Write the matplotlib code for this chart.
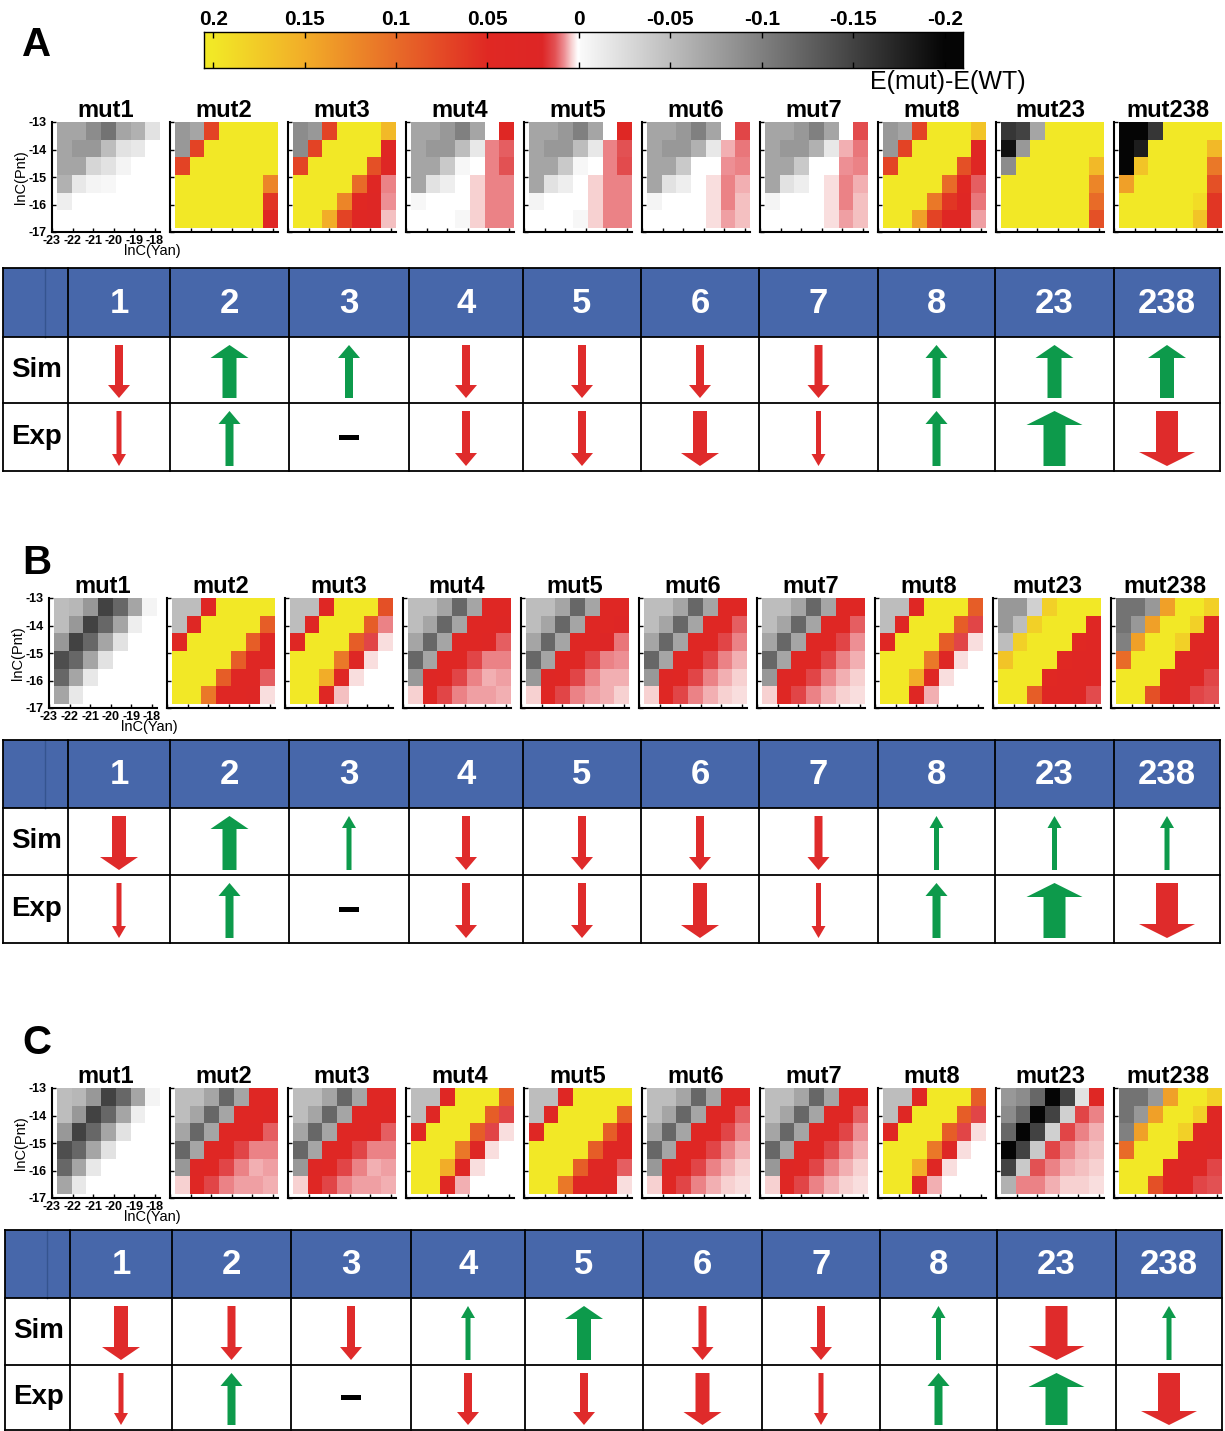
import numpy as np
import matplotlib
matplotlib.use("Agg")
import matplotlib.pyplot as plt
from matplotlib.colors import LinearSegmentedColormap
from matplotlib.patches import Rectangle, Polygon

plt.rcParams['font.family'] = ['Liberation Sans', 'DejaVu Sans']
plt.rcParams['axes.unicode_minus'] = False

# ---------------- data (E(mut)-E(WT), in units of 0.01) ----------------
# rows: lnC(Pnt) -13 (top) ... -17 ; cols: lnC(Yan) -23 ... -18
mutants = ['mut1', 'mut2', 'mut3', 'mut4', 'mut5', 'mut6', 'mut7', 'mut8', 'mut23', 'mut238']
col_labels = ['1', '2', '3', '4', '5', '6', '7', '8', '23', '238']

A_mut1 = [[-7, -7, -9, -11, -7, -6, -2],
          [-7, -8, -8, -5, -2, -1.5, 0],
          [-7, -7, -3, -2, -0.5, 0, 0],
          [-6, -1.5, -0.5, -0.3, 0, 0, 0],
          [-1, 0, 0, 0, 0, 0, 0],
          [0, 0, 0, 0, 0, 0, 0]]
A_mut2 = [[-8, -7, 7, 20, 20, 20, 20],
          [-8, 7, 20, 20, 20, 20, 20],
          [7, 20, 20, 20, 20, 20, 20],
          [20, 20, 20, 20, 20, 20, 12],
          [20, 20, 20, 20, 20, 20, 6],
          [20, 20, 20, 20, 20, 20, 4]]
A_mut3 = [[-9, -8, 7, 20, 20, 20, 16],
          [-9, 7, 20, 20, 20, 20, 4],
          [7, 20, 20, 20, 20, 8, 3],
          [20, 20, 20, 20, 10, 4, 0.9],
          [20, 20, 20, 12, 5, 3, 0.8],
          [20, 20, 15, 7, 4, 3, 0.5]]
A_mut4 = [[-7, -7, -8, -10, -7, 0, 4],
          [-7, -8, -8, -5, -1.5, 0.9, 1.2],
          [-7, -7, -4, -0.3, 0, 0.9, 1.3],
          [-7, -2, -1, 0, 0.4, 0.9, 0.9],
          [-0.3, 0, 0, 0, 0.4, 0.9, 0.9],
          [0, 0, 0, -0.3, 0.4, 0.9, 0.9]]
A_mut5 = [[-7, -7, -8, -10, -7, 0, 3.5],
          [-7, -8, -8, -5, -1.5, 0.9, 1.3],
          [-7, -7, -4, -0.3, 0, 0.9, 1.4],
          [-7, -2, -1, 0, 0.4, 0.9, 0.9],
          [-0.5, 0, 0, 0, 0.4, 0.9, 0.9],
          [0, 0, 0, -0.3, 0.4, 0.9, 0.9]]
A_mut6 = [[-7, -7, -8, -10, -7, 0, 1.5],
          [-7, -8, -8, -6, -1.5, 0.6, 1.0],
          [-7, -7, -4, 0, 0, 0.8, 0.9],
          [-7, -2, -1, 0, 0.3, 0.9, 0.6],
          [-0.5, 0, 0, 0, 0.3, 0.9, 0.5],
          [0, 0, 0, 0, 0.3, 0.7, 0.5]]
A_mut7 = [[-7, -7, -8, -10, -7, 0, 1.4],
          [-7, -8, -8, -6, -1.5, 0.6, 1.0],
          [-7, -7, -4, 0, 0, 0.8, 0.9],
          [-7, -2, -1, 0, 0.3, 0.9, 0.6],
          [-0.5, 0, 0, 0, 0.3, 0.9, 0.5],
          [0, 0, 0, 0, 0.3, 0.7, 0.5]]
A_mut8 = [[-8, -7, 7, 20, 20, 20, 17],
          [-8, 7, 20, 20, 20, 20, 4],
          [7, 20, 20, 20, 20, 8, 4],
          [20, 20, 20, 20, 10, 5, 1.2],
          [20, 20, 20, 11, 6, 4, 1.0],
          [20, 20, 14, 7, 4, 4, 0.7]]
A_mut23 = [[-16, -15, -7, 20, 20, 20, 20],
           [-19, -8, 20, 20, 20, 20, 20],
           [-9, 20, 20, 20, 20, 20, 16],
           [20, 20, 20, 20, 20, 20, 12],
           [20, 20, 20, 20, 20, 20, 10],
           [20, 20, 20, 20, 20, 20, 8]]
A_mut238 = [[-20, -20, -16, 20, 20, 20, 20],
            [-20, -18, 20, 20, 20, 20, 16],
            [-20, 17, 20, 20, 20, 20, 11],
            [14, 20, 20, 20, 20, 20, 8],
            [20, 20, 20, 20, 20, 19, 6],
            [20, 20, 20, 20, 20, 17, 6]]

B_mut1 = [[-5, -5.5, -8, -15, -12, -7, -0.5],
          [-5, -8, -15, -12, -7, -1, 0],
          [-8, -15, -12, -7, -2, 0, 0],
          [-14, -12, -7, -2, 0, 0, 0],
          [-12, -7, -1.5, 0, 0, 0, 0],
          [-7, -1.5, 0, 0, 0, 0, 0]]
B_mut2 = [[-5, -5, 4, 20, 20, 20, 20],
          [-5, 4, 20, 20, 20, 20, 9],
          [4, 20, 20, 20, 20, 9, 4],
          [20, 20, 20, 20, 9, 4, 4],
          [20, 20, 20, 9, 4, 4, 1.2],
          [20, 20, 11, 4, 4, 3, 0.3]]
B_mut3 = [[-5, -5, 4, 20, 20, 20, 8],
          [-5, 4, 20, 20, 20, 9, 0.9],
          [4, 20, 20, 20, 9, 1.5, 0.3],
          [20, 20, 20, 11, 3, 0.3, 0],
          [20, 20, 15, 4, 0.3, 0, 0],
          [20, 20, 4, 0.5, 0, 0, 0]]
B_mut4 = [[-5, -5, -7, -12, -7, 4, 4],
          [-5, -7, -12, -7, 4, 4, 3],
          [-7, -12, -7, 4, 4, 3, 1.2],
          [-12, -7, 4, 4, 1.5, 0.9, 0.9],
          [-8, 3, 4, 1.5, 0.9, 0.6, 0.7],
          [0.4, 4, 1.5, 0.9, 0.7, 0.7, 0.6]]
B_mut5 = [[-5, -5, -7, -12, -7, 4, 4],
          [-5, -7, -12, -7, 4, 4, 2.5],
          [-7, -12, -7, 4, 4, 2, 1.0],
          [-12, -7, 4, 4, 1.5, 0.9, 0.8],
          [-8, 3, 4, 1.5, 0.9, 0.6, 0.6],
          [0.4, 4, 1.5, 0.9, 0.7, 0.6, 0.4]]
B_mut6 = [[-5, -5, -7, -12, -7, 4, 4],
          [-5, -7, -12, -7, 4, 4, 1.2],
          [-7, -12, -7, 4, 4, 1.5, 0.9],
          [-12, -7, 4, 4, 1.5, 0.9, 0.6],
          [-8, 3, 4, 1.5, 0.9, 0.6, 0.4],
          [0.4, 4, 1.5, 0.9, 0.6, 0.4, 0.3]]
B_mut7 = [[-5, -5, -7, -12, -7, 4, 4],
          [-5, -7, -12, -7, 4, 4, 1.2],
          [-7, -12, -7, 4, 4, 1.5, 0.8],
          [-12, -7, 4, 4, 1.5, 0.9, 0.6],
          [-8, 3, 4, 1.5, 0.9, 0.6, 0.4],
          [0.4, 4, 1.5, 0.9, 0.6, 0.4, 0.3]]
B_mut8 = [[-5, -5, 4, 20, 20, 20, 9],
          [-5, 4, 20, 20, 20, 9, 1.5],
          [4, 20, 20, 20, 9, 1.5, 0.3],
          [20, 20, 20, 11, 3, 0.3, 0],
          [20, 20, 15, 4, 0.3, 0, 0],
          [20, 20, 4, 0.6, 0, 0, 0]]
B_mut23 = [[-8, -8, -3.5, 18, 20, 20, 20],
           [-8, -5, 18, 20, 20, 20, 4],
           [-5, 18, 20, 20, 20, 5, 4],
           [17, 20, 20, 20, 5, 4, 4],
           [20, 20, 20, 5, 4, 4, 3],
           [20, 20, 9, 4, 4, 3, 1.4]]
B_mut238 = [[-11, -11, -8, 14, 20, 20, 18],
            [-11, -8, 14, 20, 20, 18, 4],
            [-10, 14, 20, 20, 18, 4, 4],
            [10, 20, 20, 20, 4, 4, 3],
            [20, 20, 20, 4, 3, 3, 1.5],
            [20, 20, 8, 4, 3, 1.5, 1.3]]

C_mut23 = [[-8, -9, -12, -20, -15, -2, 4],
           [-9, -12, -20, -15, -3.5, 1.5, 0.9],
           [-12, -20, -15, -3.5, 1.5, 0.9, 0.6],
           [-20, -15, -4, 1.5, 0.9, 0.6, 0.5],
           [-15, -4, 1.3, 0.9, 0.6, 0.5, 0.4],
           [-6, 0.9, 0.9, 0.6, 0.4, 0.4, 0.3]]

panel_A = [A_mut1, A_mut2, A_mut3, A_mut4, A_mut5, A_mut6, A_mut7, A_mut8, A_mut23, A_mut238]
panel_B = [B_mut1, B_mut2, B_mut3, B_mut4, B_mut5, B_mut6, B_mut7, B_mut8, B_mut23, B_mut238]
panel_C = [B_mut1, B_mut4, B_mut4, B_mut8, B_mut2, B_mut6, B_mut7, B_mut8, C_mut23, B_mut238]

# arrows: sign = direction (+ up, - down), magnitude = effect strength, 0 = no change
sim_A = [-2, 3, 2, -2, -2, -2, -2, 2, 3, 3]
sim_B = [-3, 3, 1, -2, -2, -2, -2, 1, 1, 1]
sim_C = [-3, -2, -2, 1, 3, -2, -2, 1, -4, 1]
exp_all = [-1, 2, 0, -2, -2, -3, -1, 2, 4, -4]

cbar_ticks = [0.2, 0.15, 0.1, 0.05, 0, -0.05, -0.1, -0.15, -0.2]

# ---------------- colormap ----------------
nodes = [(-0.2, (0.02, 0.02, 0.02)),
         (-0.001, (0.98, 0.98, 0.98)),
         (0.0, (1.0, 1.0, 1.0)),
         (0.0005, (1.0, 1.0, 1.0)),
         (0.004, (0.97, 0.82, 0.82)),
         (0.008, (0.93, 0.56, 0.58)),
         (0.013, (0.89, 0.32, 0.33)),
         (0.02, (0.87, 0.15, 0.15)),
         (0.05, (0.88, 0.16, 0.14)),
         (0.1, (0.91, 0.42, 0.16)),
         (0.15, (0.95, 0.68, 0.16)),
         (0.2, (0.95, 0.91, 0.15))]
cmap = LinearSegmentedColormap.from_list(
    'emut', [((v + 0.2) / 0.4, c) for v, c in nodes], N=4096)

W, H = 1225, 1431
fig = plt.figure(figsize=(W / 100, H / 100), dpi=100)


def px_axes(left, top, width, height):
    return fig.add_axes([left / W, 1 - (top + height) / H, width / W, height / H])


ax0 = fig.add_axes([0, 0, 1, 1])
ax0.set_xlim(0, W)
ax0.set_ylim(H, 0)
ax0.axis('off')

# ---------------- colorbar ----------------
cax = px_axes(204, 32, 759, 36)
grad = np.linspace(0.205, -0.21, 1600)[None, :]
cax.imshow(grad, cmap=cmap, vmin=-0.2, vmax=0.2, aspect='auto',
           extent=[0.205, -0.21, 0, 1], interpolation='bilinear')
cax.set_xlim(0.205, -0.21)
cax.set_yticks([])
cax.set_xticks(cbar_ticks)
cax.set_xticklabels([f'{t:g}' for t in cbar_ticks], fontsize=15, fontweight='bold')
cax.xaxis.tick_top()
cax.tick_params(axis='x', direction='in', length=4, width=1, pad=2, top=True, bottom=True)
for s in cax.spines.values():
    s.set_linewidth(1)
fig.text(948 / W, 1 - 82 / H, 'E(mut)-E(WT)', fontsize=18, ha='center', va='center')

# ---------------- heatmaps ----------------
lefts = [52, 170, 288, 406, 524, 642, 760, 878, 996, 1114]
panels = [('A', panel_A, 122, 0, 45), ('B', panel_B, 598, -3, 563), ('C', panel_C, 1088, 0, 1043)]

for letter, mats, top, dx, ly in panels:
    ax0.text(37, ly, letter, fontsize=29, fontweight='bold', ha='center', va='center')
    for i, (name, m) in enumerate(zip(mutants, mats)):
        ax = px_axes(lefts[i] + dx, top, 108, 110)
        ax.imshow(np.array(m) / 100.0, cmap=cmap, vmin=-0.2, vmax=0.2,
                  extent=[-22.75, -17.75, -16.85, -13.0], aspect='auto',
                  interpolation='nearest', origin='upper')
        ax.set_xlim(-23.0, -17.75)
        ax.set_ylim(-17.0, -13.0)
        ax.set_xticks([-23, -22, -21, -20, -19, -18])
        ax.set_yticks([-13, -14, -15, -16, -17])
        ax.spines['top'].set_visible(False)
        ax.spines['right'].set_visible(False)
        ax.spines['left'].set_linewidth(1.5)
        ax.spines['bottom'].set_linewidth(1.5)
        ax.tick_params(direction='in', length=3, width=1, labelsize=9)
        ax.tick_params(axis='x', pad=2)
        ax.tick_params(axis='y', pad=4)
        ax.set_title(name, fontsize=17, fontweight='bold', pad=1)
        if i == 0:
            for lab in ax.get_xticklabels() + ax.get_yticklabels():
                lab.set_fontweight('bold')
            ax.set_ylabel('lnC(Pnt)', fontsize=10.5, labelpad=0)
            ax.set_xlabel('lnC(Yan)', fontsize=10.5)
            ax.xaxis.set_label_coords(0.93, -0.11)
        else:
            ax.tick_params(labelleft=False, labelbottom=False)

# ---------------- tables ----------------
BLUE = '#4767aa'
GREEN = '#0d9a4b'
RED = '#df2b2b'
ARROW_W = {1: (5, 14, 12), 2: (8, 22, 13), 3: (14, 38, 13), 4: (22, 56, 14)}


def draw_arrow(cx, y_top, y_bot, val):
    sw, hw, hl = ARROW_W[abs(val)]
    if val > 0:
        tip, tail, base, color = y_top, y_bot, y_top + hl, GREEN
    else:
        tip, tail, base, color = y_bot, y_top, y_bot - hl, RED
    pts = [(cx - sw / 2, tail), (cx + sw / 2, tail), (cx + sw / 2, base), (cx + hw / 2, base),
           (cx, tip), (cx - hw / 2, base), (cx - sw / 2, base)]
    ax0.add_patch(Polygon(pts, closed=True, fc=color, ec='none', zorder=3))


col_edges_AB = [3, 68, 170, 289, 409, 523, 641, 759, 878, 995, 1114, 1220]
col_edges_C = [5, 70, 172, 291, 411, 525, 643, 762, 880, 997, 1116, 1222]
tables = [(268, 337, 403, 471, col_edges_AB, sim_A),
          (740, 808, 875, 943, col_edges_AB, sim_B),
          (1230, 1298, 1365, 1430, col_edges_C, sim_C)]

for t_top, h_bot, s_bot, t_bot, edges, sim in tables:
    x0, x1 = edges[0], edges[-1]
    ax0.add_patch(Rectangle((x0, t_top), x1 - x0, h_bot - t_top, fc=BLUE, ec='none', zorder=1))
    ax0.plot([edges[0] + 42, edges[0] + 42], [t_top, h_bot], color='#35548f', lw=1, zorder=2)
    for x in edges:
        ax0.plot([x, x], [t_top, t_bot], color='black', lw=1.3, zorder=2)
    for y in (t_top, h_bot, s_bot, t_bot):
        ax0.plot([x0, x1], [y, y], color='black', lw=1.3, zorder=2)
    ax0.text((edges[0] + edges[1]) / 2 + 1, (h_bot + s_bot) / 2, 'Sim', fontsize=20,
             fontweight='bold', ha='center', va='center')
    ax0.text((edges[0] + edges[1]) / 2 + 1, (s_bot + t_bot) / 2, 'Exp', fontsize=20,
             fontweight='bold', ha='center', va='center')
    for j, lab in enumerate(col_labels):
        cx = (edges[j + 1] + edges[j + 2]) / 2
        ax0.text(cx, (t_top + h_bot) / 2 + 1, lab, fontsize=25, fontweight='bold',
                 color='white', ha='center', va='center', zorder=3)
        for val, (r_top, r_bot) in ((sim[j], (h_bot, s_bot)), (exp_all[j], (s_bot, t_bot))):
            if val == 0:
                ax0.add_patch(Rectangle((cx - 10, (r_top + r_bot) / 2 - 2.5), 20, 5,
                                        fc='black', ec='none', zorder=3))
            else:
                draw_arrow(cx, r_top + 8, r_bot - 5, val)

fig.savefig('out.png', dpi=100)
